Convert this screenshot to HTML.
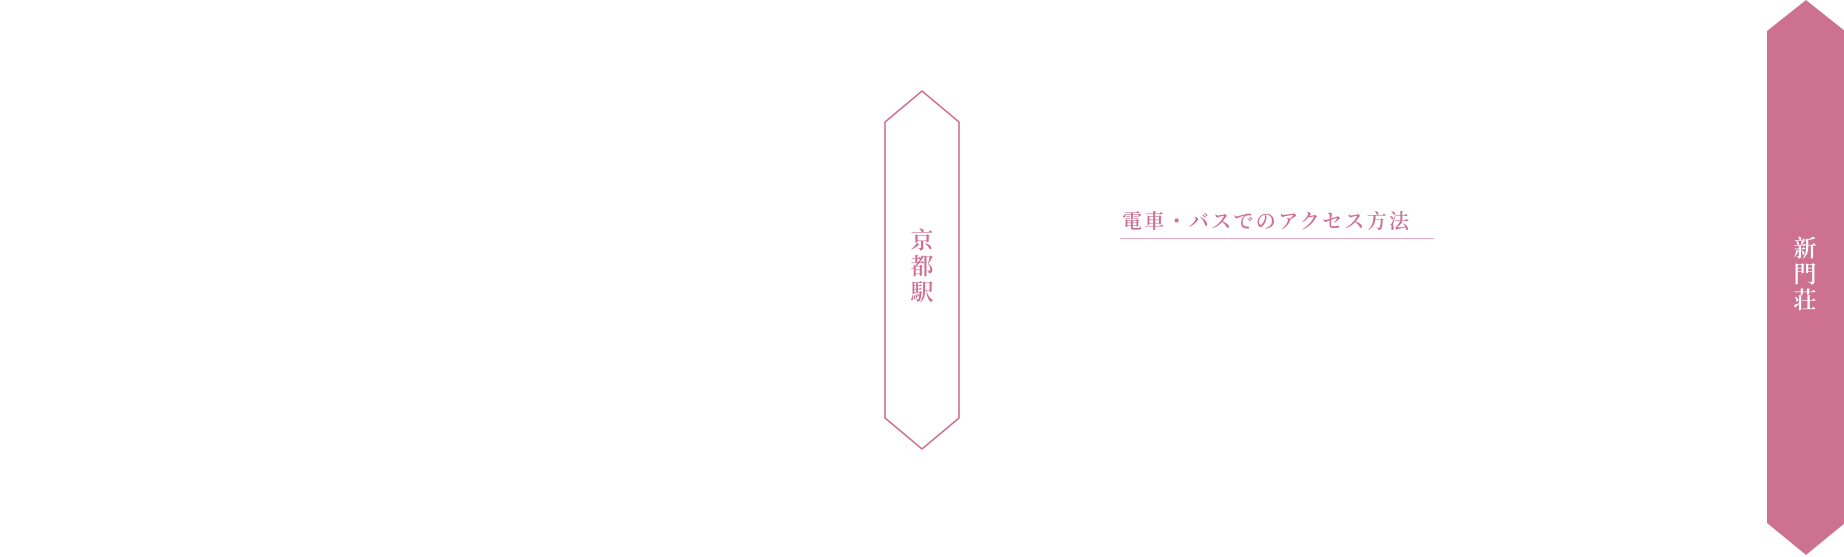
<!DOCTYPE html>
<html><head><meta charset="utf-8"><style>
html,body{margin:0;padding:0;background:#fff;width:1844px;height:557px;overflow:hidden;position:relative}
.t{position:absolute;font-family:"Liberation Serif","Noto Serif CJK SC","Noto Sans CJK JP",serif;font-weight:600}
</style></head><body>
<svg width="1844" height="557" style="position:absolute;left:0;top:0">
<polygon points="885,122 922,91 959,122 959,418 922,449 885,418" fill="none" stroke="#cf6f92" stroke-width="1.6"/>
<polygon points="1767,31 1806,0 1845,31 1845,523 1806,555 1767,523" fill="#cc7290"/>
<line x1="1120" y1="238.5" x2="1434" y2="238.5" stroke="#e6a9be" stroke-width="1"/>
</svg>
<div class="t" style="left:908px;top:228px;width:28px;font-size:23px;line-height:26px;color:#cf6f92;text-align:center">京<br>都<br>駅</div>
<div class="t" style="left:1792px;top:236px;width:26px;font-size:23px;line-height:26px;color:#fff;text-align:center">新<br>門<br>荘</div>
<div class="t" style="left:1122px;top:209px;font-size:20px;line-height:26px;letter-spacing:2.3px;color:#cf6f92;white-space:nowrap">電車・バスでのアクセス方法</div>
</body></html>
